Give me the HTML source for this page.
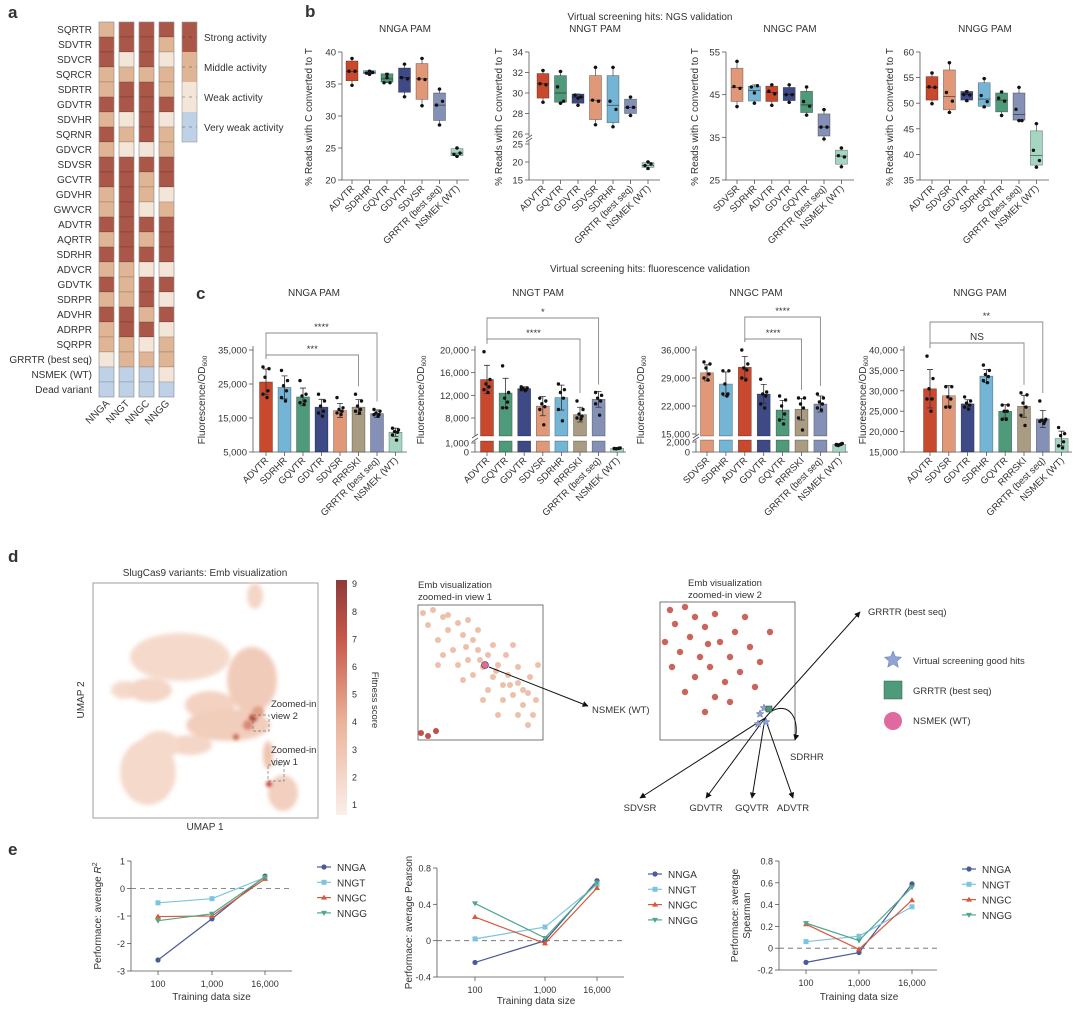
<!DOCTYPE html>
<html><head><meta charset="utf-8">
<style>
html,body{margin:0;padding:0;background:#fff;}
svg{display:block;font-family:"Liberation Sans",sans-serif;}
text{fill:#333;}
</style></head>
<body>
<svg id="fig" xmlns="http://www.w3.org/2000/svg" width="1080" height="1015" viewBox="0 0 1080 1015">
<rect x="0" y="0" width="1080" height="1015" fill="#fff"/>
<defs>
<filter id="blur3" x="-50%" y="-50%" width="200%" height="200%"><feGaussianBlur stdDeviation="2"/></filter>
<filter id="blur1" x="-50%" y="-50%" width="200%" height="200%"><feGaussianBlur stdDeviation="1.5"/></filter>
<linearGradient id="cbar" x1="0" y1="1" x2="0" y2="0">
<stop offset="0" stop-color="#fbefe9"/><stop offset="0.4" stop-color="#eab29a"/><stop offset="0.75" stop-color="#c7584a"/><stop offset="1" stop-color="#8e3b3b"/>
</linearGradient>
<marker id="arr" viewBox="0 0 10 10" refX="9" refY="5" markerWidth="6" markerHeight="6" orient="auto-start-reverse"><path d="M0,0 L10,5 L0,10 z" fill="#111"/></marker>
</defs>
</svg>
<script>
// ---------- DATA ----------
const heatRows=['SQRTR','SDVTR','SDVCR','SQRCR','SDRTR','GDVTR','SDVHR','SQRNR','GDVCR','SDVSR','GCVTR','GDVHR','GWVCR','ADVTR','AQRTR','SDRHR','ADVCR','GDVTK','SDRPR','ADVHR','ADRPR','SQRPR','GRRTR (best seq)','NSMEK (WT)','Dead variant'];
const heatCols=['NNGA','NNGT','NNGC','NNGG'];
// 3 strong, 2 middle, 1 weak, 0 very weak
const heatNNGA=[2,3,3,2,2,3,2,3,2,3,3,2,2,3,2,3,2,3,2,3,2,2,1,0,0];
const heatNNGT=[3,3,1,2,3,3,1,2,1,3,3,3,3,3,3,3,2,2,2,3,3,2,2,0,0];
const heatNNGC=[3,3,3,2,3,3,3,3,1,3,2,2,1,3,2,3,1,3,3,2,3,1,2,0,0];
const heatNNGG=[3,2,1,2,2,3,1,2,2,3,3,1,2,3,3,3,1,3,1,3,1,2,2,1,0];
const heatLegend=['Strong activity','Middle activity','Weak activity','Very weak activity'];

// Panel b (box plots)
const bGA_cats=['ADVTR','SDRHR','GQVTR','GDVTR','SDVSR','GRRTR (best seq)','NSMEK (WT)'];
const bGA_lo=[34.8,36.5,35.2,33,31.6,28.6,23.7];
const bGA_q1=[35.5,36.6,35.3,33.7,32.6,29.3,23.8];
const bGA_med=[37,36.8,35.8,36,35.8,31.7,24.2];
const bGA_q3=[38.6,37.1,36.6,37.5,38.2,33.6,24.9];
const bGA_hi=[39,37.1,36.7,38.1,39,34.2,25];
const bGA_pts=[[37,37,39,34.8],[36.7,36.8,37,36.5],[35.2,35.2,36.5,36],[36,35.8,38.1,33],[35.8,35.7,39,31.6],[31.7,32.3,34.2,28.6],[24,24.2,25,23.7]];
const bGA_ticks=[20,25,30,35,40];

const bGT_cats=['ADVTR','GQVTR','GDVTR','SDVSR','SDRHR','GRRTR (best seq)','NSMEK (WT)'];
const bGT_lo=[29.1,29,28.8,26.9,26.7,27.8,18];
const bGT_q1=[29.5,29.1,29,27.4,27.1,28,18.5];
const bGT_med=[30.9,30,29.6,29.3,28.8,28.6,19];
const bGT_q3=[31.9,31.7,29.9,31.7,31.7,29.4,19.8];
const bGT_hi=[32.2,32.1,29.9,32.5,32.5,29.6,20.2];
const bGT_pts=[[30.9,30.8,32.2,29.1],[30.6,29.2,29,32.1],[29.8,29.6,29.5,28.8],[29.3,29.2,32.5,26.9],[29.2,28.4,32.5,26.7],[28.6,28.6,29.6,27.8],[19,19.5,18.2,20]];
const bGT_ticks=[15,20,25,26,28,30,32,34];

const bGC_cats=['SDVSR','SDRHR','ADVTR','GDVTR','GQVTR','GRRTR (best seq)','NSMEK (WT)'];
const bGC_lo=[42.2,43,42.5,43.2,40.2,34.6,28.1];
const bGC_q1=[43.4,43.5,43.4,43.6,40.8,35.3,28.7];
const bGC_med=[46.7,46,45.5,45,42.6,37.4,30.6];
const bGC_q3=[51.2,47,47,46.7,45.8,40.5,32];
const bGC_hi=[52.8,47.3,47.3,47.3,46.8,41.5,32.5];
const bGC_pts=[[46.9,46.5,52.8,42.2],[46.8,47.1,45.4,43],[45.8,45.2,47.3,42.5],[45,45,47.3,43.2],[43.4,42.3,46.8,40.2],[37.4,37.4,41.5,34.6],[30.7,30.4,32.5,28.1]];
const bGC_ticks=[25,35,45,55];

const bGG_cats=['ADVTR','SDVSR','GDVTR','SDRHR','GQVTR','GRRTR (best seq)','NSMEK (WT)'];
const bGG_lo=[49.9,48.2,50.3,49.1,47.6,46.6,37.5];
const bGG_q1=[50.6,48.7,50.6,49.4,48.3,46.7,37.9];
const bGG_med=[53.1,51.3,51.7,50.8,50.6,47.8,39.8];
const bGG_q3=[55.2,56.5,52.3,54,52,52,44.6];
const bGG_hi=[55.9,57.9,52.5,54.8,52.2,53.1,46];
const bGG_pts=[[53.2,53.1,55.9,49.9],[52.1,50.4,57.9,48.2],[51.7,51.6,52.2,50.5],[51.5,50.3,54.8,49.3],[51,50.4,52.2,47.6],[48.8,46.6,46.6,53.1],[40.8,38.8,46,37.5]];
const bGG_ticks=[35,40,45,50,55,60];

// Panel c (bar charts)
const cGA_cats=['ADVTR','SDRHR','GQVTR','GDVTR','SDVSR','RRRSKI','GRRTR (best seq)','NSMEK (WT)'];
const cGA_mean=[25600,24000,21200,18200,17200,18200,16300,10800];
const cGA_sd=[3800,3400,2600,2300,2100,2200,1100,1200];
const cGA_pts=[[30000,29500,27000,23000,22000,21000],[29000,26000,24500,23000,21000,20000],[26000,22000,21500,20000,19500,19000],[22000,20000,18500,17000,16500,15500],[21000,18000,17500,17000,16500,16000],[22000,20000,18500,17500,17000,16500],[17500,17000,16500,16000,16000,15500],[12000,11500,11000,10800,10000,8500]];
const cGA_ticks=[5000,15000,25000,35000];

const cGT_cats=['ADVTR','GQVTR','GDVTR','SDVSR','SDRHR','RRRSKI','GRRTR (best seq)','NSMEK (WT)'];
const cGT_mean=[14800,12400,13200,10100,11600,8600,11300,400];
const cGT_sd=[2500,2600,300,1700,2200,1300,1400,100];
const cGT_pts=[[19700,14800,14000,13500,13000,12500],[17200,12500,11500,10800,9800,9800],[13500,13300,13200,13000,13000,12800],[11500,11000,10500,10000,9500,6800],[14000,13000,12500,11500,9500,7500],[11000,9500,8700,8300,8000,7800],[12500,12000,11500,11000,10500,8500],[400,450,350,420,380,400]];
const cGT_ticks=[0,1000,8000,12000,16000,20000];

const cGC_cats=['SDVSR','SDRHR','ADVTR','GDVTR','GQVTR','RRRSKI','GRRTR (best seq)','NSMEK (WT)'];
const cGC_mean=[30300,27500,31700,25000,21000,21200,22500,1500];
const cGC_sd=[2000,3000,2700,2400,2400,2700,2000,200];
const cGC_pts=[[33000,32500,31500,30000,29000,28500],[30800,30800,27500,25000,25000,24500],[36000,32500,31500,31000,29000,28500],[28700,25500,25000,24500,22500,21500],[24500,23500,22000,20000,18500,17500],[24000,24000,22500,21500,19000,16000],[25000,24000,23000,22500,21500,21000],[1500,1700,1300,1600,1400,1500]];
const cGC_ticks=[0,2000,15000,22000,29000,36000];

const cGG_cats=['ADVTR','SDVSR','GDVTR','SDRHR','GQVTR','RRRSKI','GRRTR (best seq)','NSMEK (WT)'];
const cGG_mean=[30500,28800,26800,33600,25000,26200,23100,18300];
const cGG_sd=[4700,2500,1000,1600,1600,2700,2100,1800];
const cGG_pts=[[38500,33000,30500,28000,28000,25000],[31000,31000,28500,28000,26000,26000],[28500,27500,27000,26500,26000,25500],[36300,35000,34000,33500,32500,32000],[26500,26500,25000,25000,23000,23000],[29500,29000,27000,26000,24000,21500],[27500,23000,22800,22500,22500,22000],[21000,19500,19000,17500,16500,16000]];
const cGG_ticks=[15000,20000,25000,30000,35000,40000];

// Panel e (lines)
const eSizes=['100','1,000','16,000'];
const eSeries=['NNGA','NNGT','NNGC','NNGG'];
const eR2_NNGA=[-2.6,-1.1,0.45];
const eR2_NNGT=[-0.52,-0.37,0.4];
const eR2_NNGC=[-1.02,-1.0,0.35];
const eR2_NNGG=[-1.17,-0.92,0.42];
const eR2_ticks=[-3,-2,-1,0,1];
const eP_NNGA=[-0.24,0.0,0.66];
const eP_NNGT=[0.02,0.15,0.62];
const eP_NNGC=[0.26,-0.03,0.58];
const eP_NNGG=[0.41,0.03,0.64];
const eP_ticks=[-0.4,0,0.4,0.8];
const eS_NNGA=[-0.13,-0.04,0.59];
const eS_NNGT=[0.06,0.11,0.38];
const eS_NNGC=[0.22,-0.01,0.44];
const eS_NNGG=[0.23,0.07,0.56];
const eS_ticks=[-0.2,0,0.2,0.4,0.6,0.8];

// ---------- HELPERS ----------
const NS='http://www.w3.org/2000/svg';
const svg=document.getElementById('fig');
function el(tag,attrs,parent){const e=document.createElementNS(NS,tag);for(const k in attrs)e.setAttribute(k,attrs[k]);(parent||svg).appendChild(e);return e;}
function txt(x,y,s,attrs,parent){const t=el('text',Object.assign({x:x,y:y},attrs||{}),parent);t.textContent=s;return t;}
function grp(name){const g=el('g',{});


return g;}
const COL={ADVTR:'#c8492e',SDRHR:'#74b5d5',GQVTR:'#4f9a7a',GDVTR:'#3d4a85',SDVSR:'#e09878',GRRTR:'#8490b6',NSMEK:'#a6d6c2',RRRSKI:'#a99c82'};
function colOf(c){return COL[c.split(' ')[0]];}
function fmt(v){return v.toLocaleString('en-US');}

// ---------- PANEL LETTERS / TITLES ----------
[['a',8,18],['b',305,17],['c',196,299],['d',8,562],['e',8,855]].forEach(function(p){
 const t=txt(p[1],p[2],p[0],{'font-size':17,'font-weight':'bold',fill:'#111'});
 
 
});
let st=txt(650,20,'Virtual screening hits: NGS validation',{'font-size':10,'text-anchor':'middle'});


st=txt(650,272,'Virtual screening hits: fluorescence validation',{'font-size':10,'text-anchor':'middle'});



// ---------- PANEL A: HEATMAP ----------
(function(){
 const g=grp('activity-heatmap');
 const HC=['#bed1e7','#f3e5d8','#e0b595','#aa5749'];
 const colsData=[heatNNGA,heatNNGT,heatNNGC,heatNNGG];
 const x0=[99,119,139,159], top=22, rh=15, cw=15;
 heatRows.forEach(function(r,i){
  const t=txt(92,top+i*rh+11,r,{'font-size':10,'text-anchor':'end'},g);
  
  
 });
 colsData.forEach(function(arr,j){
  arr.forEach(function(v,i){
   const c=el('rect',{x:x0[j],y:top+i*rh,width:cw,height:rh,fill:HC[v],stroke:'rgba(0,0,0,0.22)','stroke-width':0.6},g);
   
   
  });
  const o=el('rect',{x:x0[j],y:top,width:cw,height:rh*heatRows.length,fill:'none',stroke:'#999','stroke-width':0.6},g);
  
  
  const t=txt(x0[j]+11,404,heatCols[j],{'font-size':10,'text-anchor':'end',transform:'rotate(-45 '+(x0[j]+11)+' 404)'},g);
  
  
 });
 heatLegend.forEach(function(s,k){
  const y=22+k*30;
  const r=el('rect',{x:182,y:y,width:15,height:30,fill:HC[3-k]},g);
  
  
  const d=el('line',{x1:182,x2:197,y1:y+15,y2:y+15,stroke:'rgba(0,0,0,0.3)','stroke-dasharray':'3,4'},g);
  
  
  const t=txt(204,y+19,s,{'font-size':10},g);
  
  
 });
 const o=el('rect',{x:182,y:22,width:15,height:120,fill:'none',stroke:'#999','stroke-width':0.6},g);
 
 
})();

// ---------- PANEL B: BOX PLOTS ----------
function boxChart(c){
 const g=grp(c.name);
 const t=txt(c.titleX,32,c.title,{'font-size':10,'text-anchor':'middle'},g);
 
 
 const yl=txt(0,0,'% Reads with C converted to T',{'font-size':10,'text-anchor':'middle',transform:'translate('+c.ylx+',117) rotate(-90)'},g);
 
 
 const ax=el('path',{d:'M'+c.x0+',52 V180 H'+c.x1,fill:'none',stroke:'#555','stroke-width':0.8},g);
 
 
 c.ticks.forEach(function(v){
  const y=c.ymap(v);
  const tl=el('line',{x1:c.x0-4,x2:c.x0,y1:y,y2:y,stroke:'#555','stroke-width':0.8},g);
  
  
  const tt=txt(c.x0-6,y+3.5,String(v),{'font-size':9.5,'text-anchor':'end'},g);
  
  
 });
 if(c.brk){
  const w=el('rect',{x:c.x0-3,y:136,width:6,height:5,fill:'#fff'},g);
  
  
  const b=el('path',{d:'M'+(c.x0-3)+',139 l6,-4 M'+(c.x0-3)+',142 l6,-4',stroke:'#555','stroke-width':0.8},g);
  
  
 }
 c.cats.forEach(function(cat,i){
  const cx=c.cx0+i*c.dx, col=colOf(cat);
  const wl=el('line',{x1:cx,x2:cx,y1:c.ymap(c.lo[i]),y2:c.ymap(c.hi[i]),stroke:'#444','stroke-width':0.7},g);
  
  
  [c.lo[i],c.hi[i]].forEach(function(v){
   const cap=el('line',{x1:cx-2,x2:cx+2,y1:c.ymap(v),y2:c.ymap(v),stroke:'#444','stroke-width':0.7},g);
   
   
  });
  const y3=c.ymap(c.q3[i]), y1=c.ymap(c.q1[i]);
  const r=el('rect',{x:cx-6,y:y3,width:12,height:Math.max(1,y1-y3),fill:col,stroke:'rgba(0,0,0,0.45)','stroke-width':0.6},g);
  
  
  const m=el('line',{x1:cx-6,x2:cx+6,y1:c.ymap(c.med[i]),y2:c.ymap(c.med[i]),stroke:'rgba(0,0,0,0.55)','stroke-width':0.8},g);
  
  
  const off=[-3,3,0,0];
  c.pts[i].forEach(function(v,k){
   const p=el('circle',{cx:cx+off[k],cy:c.ymap(v),r:1.7,fill:'#111'},g);
   
   
  });
  const xt=el('line',{x1:cx,x2:cx,y1:180,y2:184,stroke:'#555','stroke-width':0.8},g);
  
  
  const lt=txt(cx+3,189,cat,{'font-size':9.5,'text-anchor':'end',transform:'rotate(-45 '+(cx+3)+' 189)'},g);
  
  
 });
}
function lin(v0,y0,v1,y1){return function(v){return y0+(v-v0)*(y1-y0)/(v1-v0);};}
boxChart({name:'box-chart-nnga',title:'NNGA PAM',titleX:405,ylx:312,x0:342,x1:469,cx0:352,dx:17.5,ymap:lin(20,180,40,52),ticks:bGA_ticks,cats:bGA_cats,lo:bGA_lo,q1:bGA_q1,med:bGA_med,q3:bGA_q3,hi:bGA_hi,pts:bGA_pts});
(function(){const up=lin(26,134,34,52), dn=lin(15,180,25,144);
boxChart({name:'box-chart-nngt',title:'NNGT PAM',titleX:595,ylx:502,x0:529,x1:660,cx0:543,dx:17.5,brk:true,ymap:function(v){return v>=25.5?up(v):dn(v);},ticks:bGT_ticks,cats:bGT_cats,lo:bGT_lo,q1:bGT_q1,med:bGT_med,q3:bGT_q3,hi:bGT_hi,pts:bGT_pts});})();
boxChart({name:'box-chart-nngc',title:'NNGC PAM',titleX:790,ylx:698,x0:726,x1:854,cx0:737,dx:17.4,ymap:lin(25,180,55,52),ticks:bGC_ticks,cats:bGC_cats,lo:bGC_lo,q1:bGC_q1,med:bGC_med,q3:bGC_q3,hi:bGC_hi,pts:bGC_pts});
boxChart({name:'box-chart-nngg',title:'NNGG PAM',titleX:985,ylx:893,x0:920,x1:1049,cx0:932,dx:17.4,ymap:lin(35,180,60,52),ticks:bGG_ticks,cats:bGG_cats,lo:bGG_lo,q1:bGG_q1,med:bGG_med,q3:bGG_q3,hi:bGG_hi,pts:bGG_pts});

// ---------- PANEL C: BAR CHARTS ----------
function barChart(c){
 const g=grp(c.name);
 const t=txt(c.titleX,296,c.title,{'font-size':10,'text-anchor':'middle'},g);
 
 
 const yl=el('text',{'font-size':10,'text-anchor':'middle',transform:'translate('+c.ylx+',400) rotate(-90)'},g);
 yl.innerHTML='Fluorescence/OD<tspan font-size="6.5" dy="2">600</tspan>';
 
 
 const ax=el('path',{d:'M'+c.x0+',346 V452 H'+c.x1,fill:'none',stroke:'#555','stroke-width':0.8},g);
 
 
 c.ticks.forEach(function(v){
  const y=c.ymap(v);
  const tl=el('line',{x1:c.x0-4,x2:c.x0,y1:y,y2:y,stroke:'#555','stroke-width':0.8},g);
  
  
  const tt=txt(c.x0-6,y+3.5,fmt(v),{'font-size':9.5,'text-anchor':'end'},g);
  
  
 });
 if(c.brk){
  const w=el('rect',{x:c.x0-4,y:c.brk[0],width:c.x1-c.x0+4,height:c.brk[1]-c.brk[0],fill:'#fff'},g);
  
  
  const b=el('path',{d:'M'+(c.x0-3)+','+(c.brk[0]+2)+' l6,-4 M'+(c.x0-3)+','+(c.brk[1]+1)+' l6,-4',stroke:'#555','stroke-width':0.8},g);
  
  
 }
 c.cats.forEach(function(cat,i){
  const cx=c.cx0+i*c.dx, col=colOf(cat);
  const ym=c.ymap(c.mean[i]);
  if(c.brk && ym<c.brk[0]){
   const r1=el('rect',{x:cx-6.5,y:ym,width:13,height:c.brk[0]-ym,fill:col,stroke:'rgba(0,0,0,0.5)','stroke-width':0.5},g);
   
   
   const r2=el('rect',{x:cx-6.5,y:c.brk[1],width:13,height:452-c.brk[1],fill:col,stroke:'rgba(0,0,0,0.5)','stroke-width':0.5},g);
   
   
  } else {
   const r=el('rect',{x:cx-6.5,y:ym,width:13,height:452-ym,fill:col,stroke:'rgba(0,0,0,0.5)','stroke-width':0.5},g);
   
   
  }
  const ya=c.ymap(c.mean[i]+c.sd[i]), yb=c.ymap(c.mean[i]-c.sd[i]);
  const e=el('path',{d:'M'+cx+','+ya+' V'+yb+' M'+(cx-3)+','+ya+' h6 M'+(cx-3)+','+yb+' h6',stroke:'#333','stroke-width':0.8,fill:'none'},g);
  
  
  const off=[-3,3,-1,2,-3,1];
  c.pts[i].forEach(function(v,k){
   const p=el('circle',{cx:cx+off[k],cy:c.ymap(v),r:1.7,fill:'#111'},g);
   
   
  });
  const xt=el('line',{x1:cx,x2:cx,y1:452,y2:456,stroke:'#555','stroke-width':0.8},g);
  
  
  const lt=txt(cx+3,461,cat,{'font-size':9.5,'text-anchor':'end',transform:'rotate(-45 '+(cx+3)+' 461)'},g);
  
  
 });
 c.sig.forEach(function(s){
  const xa=c.cx0+s[0]*c.dx, xb=c.cx0+s[1]*c.dx;
  const ya=c.ymap(Math.max.apply(null,c.pts[s[0]]))-8, yb=c.ymap(Math.max.apply(null,c.pts[s[1]]))-8;
  const br=el('path',{d:'M'+xa+','+ya+' V'+s[2]+' H'+xb+' V'+yb,stroke:'#888','stroke-width':0.9,fill:'none'},g);
  
  
  const st=txt((xa+xb)/2,s[2]-3,s[3],{'font-size':s[3]==='NS'?10:9.5,'text-anchor':'middle'},g);
  
  
 });
}
barChart({name:'bar-chart-nnga',title:'NNGA PAM',titleX:314,ylx:205,x0:253,x1:407,cx0:266,dx:18.5,ymap:lin(5000,452,35000,350),ticks:cGA_ticks,cats:cGA_cats,mean:cGA_mean,sd:cGA_sd,pts:cGA_pts,sig:[[0,6,333,'****'],[0,5,355,'***']]});
(function(){const up=lin(8000,418,20000,350), dn=lin(0,452,1000,443);
barChart({name:'bar-chart-nngt',title:'NNGT PAM',titleX:538,ylx:424,x0:475,x1:626,cx0:487,dx:18.6,brk:[436,441],ymap:function(v){return v>=4000?up(v):dn(v);},ticks:cGT_ticks,cats:cGT_cats,mean:cGT_mean,sd:cGT_sd,pts:cGT_pts,sig:[[0,6,318,'*'],[0,5,339,'****']]});})();
(function(){const up=lin(15000,434,36000,350), dn=lin(0,452,2000,442);
barChart({name:'bar-chart-nngc',title:'NNGC PAM',titleX:756,ylx:644,x0:696,x1:848,cx0:707,dx:18.9,brk:[436,440],ymap:function(v){return v>=8000?up(v):dn(v);},ticks:cGC_ticks,cats:cGC_cats,mean:cGC_mean,sd:cGC_sd,pts:cGC_pts,sig:[[2,6,317,'****'],[2,5,339,'****']]});})();
barChart({name:'bar-chart-nngg',title:'NNGG PAM',titleX:980,ylx:866,x0:904,x1:1072,cx0:930,dx:18.8,ymap:lin(15000,452,40000,350),ticks:cGG_ticks,cats:cGG_cats,mean:cGG_mean,sd:cGG_sd,pts:cGG_pts,sig:[[0,6,322,'**'],[0,5,343,'NS']]});

// ---------- PANEL D: EMBEDDINGS ----------
const view1Dots=[[5,8],[15,5],[25,12],[10,20],[30,25],[40,18],[45,30],[20,35],[55,35],[35,45],[60,45],[50,55],[70,50],[65,62],[80,60],[75,72],[90,70],[85,80],[100,78],[95,90],[110,88],[105,100],[118,95],[115,110],[60,25],[75,40],[88,50],[100,62],[112,72],[40,60],[55,70],[70,85],[85,95],[100,110],[25,50],[45,75],[30,10],[50,15],[20,60],[65,95],[80,110],[110,120],[120,60],[95,40],[48,42],[62,55],[78,66],[92,80],[105,85]];
const view1Dark=[[3,128],[10,131],[18,126]];
const view2Dots=[[10,8],[25,5],[35,15],[15,22],[45,25],[55,12],[30,35],[60,40],[20,50],[40,55],[70,55],[50,65],[80,70],[65,80],[35,75],[25,90],[90,45],[75,30],[85,15],[100,60],[55,95],[95,85],[45,110],[70,100],[12,65],[5,40],[110,30],[48,42]];
(function(){
 const g=grp('umap-panel');
 const t=txt(205,576,'SlugCas9 variants: Emb visualization',{'font-size':10,'text-anchor':'middle'},g);
 
 
 const fr=el('rect',{x:93,y:583,width:225,height:235,fill:'#fff',stroke:'#888','stroke-width':0.8},g);
 
 
 const cloud=el('g',{filter:'url(#blur3)'},g);
 
 
 const blobs=[
  [255,596,8,13,'#f4d6c7'],
  [180,657,50,24,'#f5dacc'],[125,690,14,9,'#f5dacc'],[150,690,22,12,'#f4d5c6'],
  [252,680,25,33,'#f1cbb9'],[210,705,25,14,'#f3d2c2'],
  [228,725,42,16,'#f1cdbb'],[190,745,22,10,'#f4d6c7'],
  [148,772,28,33,'#f5d9cb'],[160,745,20,14,'#f5d9cb'],
  [268,755,5,14,'#efc3ae'],[283,793,15,18,'#f2cfbe']];
 blobs.forEach(function(b){
  const e=el('ellipse',{cx:b[0],cy:b[1],rx:b[2],ry:b[3],fill:b[4]},cloud);
  
  
 });
 [[253,718,4,'#b84234'],[248,725,5,'#d98a74'],[236,737,3,'#cf6b57'],[269,784,3,'#c23f32'],[258,712,6,'#e2a18b']].forEach(function(b){
  const e=el('circle',{cx:b[0],cy:b[1],r:b[2],fill:b[3],filter:'url(#blur1)'},g);
  
  
 });
 [[253,715],[268,765]].forEach(function(b){
  const r=el('rect',{x:b[0],y:b[1],width:16,height:16,fill:'none',stroke:'#777','stroke-width':0.7,'stroke-dasharray':'3,2'},g);
  
  
 });
 [[271,707,'Zoomed-in'],[271,719,'view 2'],[271,753,'Zoomed-in'],[271,765,'view 1']].forEach(function(a){
  const l=txt(a[0],a[1],a[2],{'font-size':9.5},g);
  
  
 });
 const ya=txt(0,0,'UMAP 2',{'font-size':10,'text-anchor':'middle',transform:'translate(84,700) rotate(-90)'},g);
 
 
 const xa=txt(205,830,'UMAP 1',{'font-size':10,'text-anchor':'middle'},g);
 
 
 const cb=el('rect',{x:336,y:580,width:11,height:235,fill:'url(#cbar)'},g);
 
 
 for(let v=1;v<=9;v++){
  const y=805-(v-1)*27.6;
  const tl=txt(352,y+3,String(v),{'font-size':9},g);
  
  
 }
 const cbt=txt(0,0,'Fitness score',{'font-size':9.5,'text-anchor':'middle',fill:'#3d4a85',transform:'translate(372,700) rotate(90)'},g);
 
 

 // zoomed view 1
 const z1=grp('zoom-view-1');
 [[418,588,'Emb visualization'],[418,600,'zoomed-in view 1']].forEach(function(a){
  const l=txt(a[0],a[1],a[2],{'font-size':9.5},z1);
  
  
 });
 const f1=el('rect',{x:418,y:605,width:125,height:135,fill:'#fff',stroke:'#555','stroke-width':0.8},z1);
 
 
 view1Dots.forEach(function(d){
  const c=el('circle',{cx:418+d[0],cy:605+d[1],r:3,fill:'#eab59d',opacity:0.85},z1);
  
  
 });
 view1Dark.forEach(function(d){
  const c=el('circle',{cx:418+d[0],cy:605+d[1],r:3,fill:'#c0504a'},z1);
  
  
 });
 const wt=el('circle',{cx:485,cy:665,r:3.5,fill:'#e06aa0',stroke:'#333','stroke-width':0.6},z1);
 
 
 const a1=el('line',{x1:489,y1:667,x2:588,y2:706,stroke:'#111','stroke-width':1,'marker-end':'url(#arr)'},z1);
 
 
 const l1=txt(592,713,'NSMEK (WT)',{'font-size':9.5},z1);
 
 

 // zoomed view 2
 const z2=grp('zoom-view-2');
 [[688,586,'Emb visualization'],[688,598,'zoomed-in view 2']].forEach(function(a){
  const l=txt(a[0],a[1],a[2],{'font-size':9.5},z2);
  
  
 });
 const f2=el('rect',{x:660,y:602,width:135,height:138,fill:'#fff',stroke:'#555','stroke-width':0.8},z2);
 
 
 view2Dots.forEach(function(d){
  const c=el('circle',{cx:660+d[0],cy:602+d[1],r:3.2,fill:'#c4544a',opacity:0.9},z2);
  
  
 });
 const hub=[765,718];
 const arrows=[[860,612,'GRRTR (best seq)',868,615,'start'],[640,798,'SDVSR',640,811,'middle'],[706,798,'GDVTR',706,811,'middle'],[752,798,'GQVTR',752,811,'middle'],[793,798,'ADVTR',793,811,'middle']];
 arrows.forEach(function(a){
  const l=el('line',{x1:hub[0],y1:hub[1],x2:a[0],y2:a[1],stroke:'#111','stroke-width':1,'marker-end':'url(#arr)'},z2);
  
  
  const tt=txt(a[3],a[4],a[2],{'font-size':9.5,'text-anchor':a[5]},z2);
  
  
 });
 const cv=el('path',{d:'M770,712 C790,700 800,720 795,740',fill:'none',stroke:'#111','stroke-width':1,'marker-end':'url(#arr)'},z2);
 
 
 const sl=txt(790,760,'SDRHR',{'font-size':9.5},z2);
 
 
 function star(cx,cy,R,parent){let d='';for(let k=0;k<10;k++){const rr=k%2?R*0.45:R;const an=-Math.PI/2+k*Math.PI/5;d+=(k?'L':'M')+(cx+rr*Math.cos(an)).toFixed(1)+','+(cy+rr*Math.sin(an)).toFixed(1);}return el('path',{d:d+'Z',fill:'#8fa3d6',stroke:'#5a6ea8','stroke-width':0.5},parent);}
 [[760,714],[766,722],[758,724],[764,708]].forEach(function(p){
  const s=star(p[0],p[1],4,z2);
  
  
 });
 const gq=el('rect',{x:766,y:706,width:6,height:6,fill:'#4f9a7a',stroke:'#333','stroke-width':0.5},z2);
 
 

 // legend
 const lg=grp('embedding-legend');
 const ls=star(893,660,9,lg);
 
 
 const lsq=el('rect',{x:884,y:681,width:18,height:18,fill:'#4f9a7a',stroke:'#2f5f4a','stroke-width':0.5},lg);
 
 
 const lc=el('circle',{cx:893,cy:721,r:9,fill:'#e06aa0'},lg);
 
 
 [[664,'Virtual screening good hits'],[694,'GRRTR (best seq)'],[724,'NSMEK (WT)']].forEach(function(a){
  const t=txt(913,a[0],a[1],{'font-size':9.5},lg);
  
  
 });
})();

// ---------- PANEL E: LINE CHARTS ----------
const LC={NNGA:'#4a5a9a',NNGT:'#7cc4e0',NNGC:'#d9573a',NNGG:'#4fa88a'};
function marker(s,x,y,parent){
 let m;
 if(s==='NNGA') m=el('circle',{cx:x,cy:y,r:2.6,fill:LC[s]},parent);
 else if(s==='NNGT') m=el('rect',{x:x-2.5,y:y-2.5,width:5,height:5,fill:LC[s]},parent);
 else if(s==='NNGC') m=el('path',{d:'M'+x+','+(y-3)+' l3,5 h-6 z',fill:LC[s]},parent);
 else m=el('path',{d:'M'+x+','+(y+3)+' l3,-5 h-6 z',fill:LC[s]},parent);
 return m;
}
function lineChart(c){
 const g=grp(c.name);
 const ax=el('path',{d:'M'+c.x0+','+c.yTop+' V'+c.yBot+' H'+c.x1,fill:'none',stroke:'#555','stroke-width':0.8},g);
 
 
 const z=c.ymap(0);
 const zl=el('line',{x1:c.x0,x2:c.x1,y1:z,y2:z,stroke:'#666','stroke-width':0.8,'stroke-dasharray':'5,4'},g);
 
 
 c.ticks.forEach(function(v){
  const y=c.ymap(v);
  const tl=el('line',{x1:c.x0-4,x2:c.x0,y1:y,y2:y,stroke:'#555','stroke-width':0.8},g);
  
  
  const tt=txt(c.x0-6,y+3.5,String(v),{'font-size':9,'text-anchor':'end'},g);
  
  
 });
 eSizes.forEach(function(s,i){
  const x=c.xs[i];
  const tl=el('line',{x1:x,x2:x,y1:c.yBot,y2:c.yBot+4,stroke:'#555','stroke-width':0.8},g);
  
  
  const tt=txt(x,c.yBot+16,s,{'font-size':9,'text-anchor':'middle'},g);
  
  
 });
 const xl=txt((c.xs[0]+c.xs[2])/2,c.xly,'Training data size',{'font-size':10,'text-anchor':'middle'},g);
 
 
 const yl=el('text',{'font-size':10,'text-anchor':'middle',transform:'translate('+c.ylx+','+((c.yTop+c.yBot)/2)+') rotate(-90)'},g);
 yl.innerHTML=c.ylabel;
 
 
 eSeries.forEach(function(s,k){
  const vals=c.data[k];
  const pl=el('polyline',{points:vals.map(function(v,i){return c.xs[i]+','+c.ymap(v);}).join(' '),fill:'none',stroke:LC[s],'stroke-width':1.2},g);
  
  
  vals.forEach(function(v,i){
   const m=marker(s,c.xs[i],c.ymap(v),g);
   
   
  });
  const ly=c.legY+k*15.3;
  const ll=el('line',{x1:c.legX,x2:c.legX+14,y1:ly,y2:ly,stroke:LC[s],'stroke-width':1.2},g);
  
  
  const lm=marker(s,c.legX+7,ly,g);
  
  
  const lt=txt(c.legX+20,ly+4,s,{'font-size':10},g);
  
  
 });
}
lineChart({name:'line-chart-r2',x0:131,x1:292,yTop:861,yBot:971,xs:[158,212,265],xly:1000,ymap:lin(-3,971,1,861),ticks:eR2_ticks,data:[eR2_NNGA,eR2_NNGT,eR2_NNGC,eR2_NNGG],ylx:101,ylabel:'Performace: average <tspan font-style="italic">R</tspan><tspan font-size="7" dy="-4">2</tspan>',legX:317,legY:867});
lineChart({name:'line-chart-pearson',x0:437,x1:624,yTop:868,yBot:977,xs:[475,545,597],xly:1004,ymap:lin(-0.4,977,0.8,868),ticks:eP_ticks,data:[eP_NNGA,eP_NNGT,eP_NNGC,eP_NNGG],ylx:412,ylabel:'Performace: average Pearson',legX:648,legY:874});
lineChart({name:'line-chart-spearman',x0:779,x1:937,yTop:861,yBot:970,xs:[806,859,912],xly:1000,ymap:lin(-0.2,970,0.8,861),ticks:eS_ticks,data:[eS_NNGA,eS_NNGT,eS_NNGC,eS_NNGG],ylx:743,ylabel:'<tspan x="0" dy="-5">Performace: average</tspan><tspan x="0" dy="12">Spearman</tspan>',legX:962,legY:869});
</script>
</body></html>
